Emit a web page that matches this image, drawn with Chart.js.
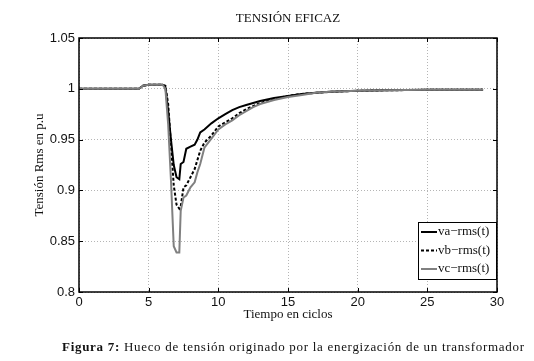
<!DOCTYPE html>
<html>
<head>
<meta charset="utf-8">
<script src="https://cdn.jsdelivr.net/npm/chart.js@4/dist/chart.umd.min.js"></script>
<style>
  html, body { margin: 0; padding: 0; background: #fff; }
  #wrap { position: relative; width: 534px; height: 361px; }
  #caption {
    position: absolute; left: 62px; top: 339px;
    font-family: "Liberation Serif", serif; font-size: 13px; color: #111;
    letter-spacing: 0.7px; white-space: nowrap;
  }
</style>
</head>
<body>
<div id="wrap">
  <canvas id="chart" width="534" height="361"></canvas>
  <div id="caption"><b>Figura 7:</b> Hueco de tensión originado por la energización de un transformador</div>
</div>
<script>
// tiempo en ciclos y tensiones rms (p.u.)
const tiempo = [0, 4.3, 4.6, 5.0, 5.5, 6.0, 6.2, 6.4, 6.6, 6.8, 7.0, 7.2, 7.3, 7.5, 7.7, 8.0, 8.3, 8.5, 8.7,
                9.0, 9.5, 10, 10.5, 11, 11.5, 12, 12.5, 13, 14, 15, 16, 17, 18, 20, 22, 25, 29];
const va = [1.0, 1.0, 1.003, 1.004, 1.004, 1.004, 1.002, 0.978, 0.950, 0.925, 0.913, 0.911, 0.926, 0.928, 0.941,
            0.943, 0.945, 0.950, 0.957, 0.960, 0.966, 0.971, 0.975, 0.979, 0.982, 0.984, 0.986, 0.988, 0.991,
            0.993, 0.995, 0.996, 0.997, 0.998, 0.9985, 0.999, 0.999];
const vb = [1.0, 1.0, 1.003, 1.004, 1.004, 1.004, 1.003, 0.985, 0.945, 0.905, 0.886, 0.882, 0.884, 0.903, 0.905,
            0.913, 0.921, 0.930, 0.939, 0.947, 0.954, 0.963, 0.967, 0.971, 0.976, 0.980, 0.983, 0.986, 0.990,
            0.993, 0.995, 0.996, 0.997, 0.998, 0.9985, 0.999, 0.999];
const vc = [1.0, 1.0, 1.003, 1.004, 1.004, 1.004, 1.0, 0.965, 0.910, 0.845, 0.839, 0.839, 0.880, 0.893, 0.895,
            0.903, 0.908, 0.918, 0.926, 0.942, 0.951, 0.960, 0.965, 0.969, 0.974, 0.978, 0.982, 0.985, 0.989,
            0.992, 0.994, 0.996, 0.997, 0.998, 0.9985, 0.999, 0.999];
const etiquetas = ["va\u2212rms(t)", "vb\u2212rms(t)", "vc\u2212rms(t)"];
const xTicks = [0, 5, 10, 15, 20, 25, 30];
const yTicks = [0.8, 0.85, 0.9, 0.95, 1, 1.05];

const serif = "'Liberation Serif', 'Times New Roman', serif";
const sans = "'Liberation Sans', Arial, sans-serif";

const pts = vals => tiempo.map((t, i) => ({ x: t, y: vals[i] }));

// marco, ticks interiores, titulo y leyenda al estilo MATLAB
const framePlugin = {
    id: "frame",
    afterDraw(chart) {
        const { ctx, chartArea: a, scales } = chart;
        ctx.save();
        ctx.strokeStyle = "#000";
        ctx.lineWidth = 1;
        xTicks.forEach(v => {
            const px = Math.round(scales.x.getPixelForValue(v)) + 0.5;
            ctx.beginPath();
            ctx.moveTo(px, a.top); ctx.lineTo(px, a.top + 4);
            ctx.moveTo(px, a.bottom); ctx.lineTo(px, a.bottom - 4);
            ctx.stroke();
        });
        yTicks.forEach(v => {
            const py = Math.round(scales.y.getPixelForValue(v)) + 0.5;
            ctx.beginPath();
            ctx.moveTo(a.left, py); ctx.lineTo(a.left + 4, py);
            ctx.moveTo(a.right, py); ctx.lineTo(a.right - 4, py);
            ctx.stroke();
        });
        ctx.lineWidth = 1.5;
        ctx.strokeRect(a.left, a.top, a.right - a.left, a.bottom - a.top);

        ctx.fillStyle = "#111";
        ctx.font = "13px " + serif;
        ctx.textAlign = "center";
        ctx.textBaseline = "middle";
        ctx.fillText("TENSIÓN EFICAZ", (a.left + a.right) / 2, 19);

        // leyenda
        const lx = 418, ly = 222, lw = 78, lh = 57;
        ctx.fillStyle = "#fff";
        ctx.fillRect(lx, ly, lw, lh);
        ctx.lineWidth = 1;
        ctx.strokeStyle = "#000";
        ctx.strokeRect(lx + 0.5, ly + 0.5, lw, lh);
        chart.data.datasets.forEach((ds, i) => {
            const y = ly + 10 + i * 18.5;
            ctx.strokeStyle = ds.borderColor;
            ctx.lineWidth = ds.borderWidth;
            ctx.setLineDash(ds.borderDash || []);
            ctx.beginPath();
            ctx.moveTo(lx + 3, y); ctx.lineTo(lx + 19, y);
            ctx.stroke();
            ctx.setLineDash([]);
            ctx.fillStyle = "#111";
            ctx.textAlign = "left";
            ctx.font = "13px " + serif;
            ctx.fillText(etiquetas[i], lx + 20, y);
        });
        ctx.restore();
    }
};

new Chart(document.getElementById("chart"), {
    type: "line",
    data: {
        datasets: [
            { label: etiquetas[0], data: pts(va), borderColor: "#000", borderWidth: 2, order: 3 },
            { label: etiquetas[1], data: pts(vb), borderColor: "#000", borderWidth: 2, borderDash: [3, 2], order: 2 },
            { label: etiquetas[2], data: pts(vc), borderColor: "#808080", borderWidth: 2, order: 1 }
        ]
    },
    options: {
        responsive: false,
        animation: false,
        layout: { padding: { top: 38, right: 37, left: 32, bottom: 39 } },
        elements: { point: { radius: 0 }, line: { tension: 0 } },
        plugins: { legend: { display: false }, tooltip: { enabled: false } },
        scales: {
            x: {
                type: "linear", min: 0, max: 30,
                afterFit: s => { s.height = 30; },
                afterBuildTicks: s => { s.ticks = xTicks.map(v => ({ value: v })); },
                grid: { color: "#b5b5b5", lineWidth: 1, drawTicks: false },
                border: { display: false, dash: [1, 2] },
                ticks: { color: "#111", padding: 3, font: { family: sans, size: 13 } },
                title: { display: true, text: "Tiempo en ciclos", color: "#111", padding: { top: 0, bottom: 0 }, font: { family: serif, size: 13 } }
            },
            y: {
                type: "linear", min: 0.8, max: 1.05,
                afterFit: s => { s.width = 47; },
                afterBuildTicks: s => { s.ticks = yTicks.map(v => ({ value: v })); },
                grid: { color: "#b5b5b5", lineWidth: 1, drawTicks: false },
                border: { display: false, dash: [1, 2] },
                ticks: { color: "#111", padding: 4, font: { family: sans, size: 13 }, callback: v => String(v) },
                title: { display: true, text: "Tensión Rms en p.u", color: "#111", padding: { top: 0, bottom: 0 }, font: { family: serif, size: 13 } }
            }
        }
    },
    plugins: [framePlugin]
});
</script>
</body>
</html>
